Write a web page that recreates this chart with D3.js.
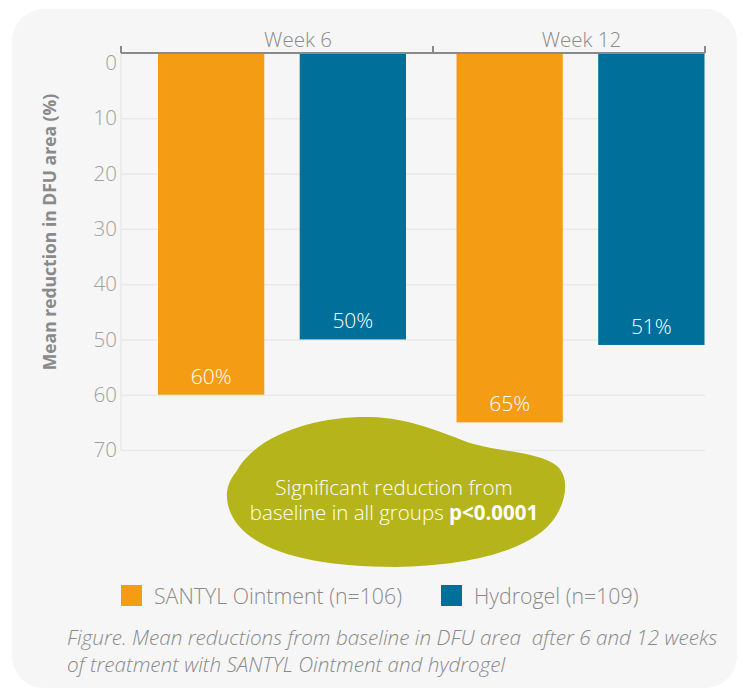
<!DOCTYPE html>
<html>
<head>
<meta charset="utf-8">
<script src="https://cdn.jsdelivr.net/npm/d3@7"></script>
<style>
  body { margin: 0; background: #ffffff; }
  svg { display: block; font-family: "Open Sans", Lato, sans-serif; }
  .tick-label { fill: #a0a0a0; font-size: 20.5px; font-weight: 300; }
  .grid line { stroke: #e9e9e9; stroke-width: 1.5; }
</style>
</head>
<body>
<div id="chart"></div>
<script>
const weeks = ["Week 6", "Week 12"];
const seriesNames = ["SANTYL Ointment (n=106)", "Hydrogel (n=109)"];
const santylValues = [60, 65];
const hydrogelValues = [50, 51];
const yTicks = [0, 10, 20, 30, 40, 50, 60, 70];
const colors = ["#f39c14", "#00709b"];

const width = 743;
const height = 692;
const margin = { top: 53, left: 121, right: 38 };
const axisEdges = [121, 433, 705];

const svg = d3.select("#chart").append("svg")
  .attr("width", width)
  .attr("height", height);

// background panel
svg.append("rect")
  .attr("x", 12).attr("y", 9)
  .attr("width", 725).attr("height", 679)
  .attr("rx", 32)
  .attr("fill", "#f6f6f6");

const plotRight = axisEdges[2];
const x0 = d3.scaleBand().domain(weeks).range([132.75, 729.75]);
const x1 = d3.scaleBand().domain(seriesNames)
  .range([x0.bandwidth() / 2 - 124, x0.bandwidth() / 2 + 124])
  .paddingInner(0.25).paddingOuter(0);
const y = d3.scaleLinear().domain([0, 70]).range([63, 450]);

// gridlines
svg.append("g")
  .attr("class", "grid")
  .attr("transform", `translate(${margin.left},0)`)
  .call(d3.axisLeft(y).tickValues(yTicks.slice(1)).tickSize(-(plotRight - margin.left)).tickFormat(""))
  .call((g) => g.select(".domain").remove());

svg.append("line")
  .attr("x1", margin.left).attr("x2", margin.left)
  .attr("y1", margin.top).attr("y2", y(70))
  .attr("stroke", "#e9e9e9").attr("stroke-width", 1.5);

// y tick labels
svg.append("g")
  .selectAll("text")
  .data(yTicks)
  .join("text")
  .attr("class", "tick-label")
  .attr("x", margin.left - 4)
  .attr("y", (d) => y(d))
  .attr("dy", "0.35em")
  .attr("text-anchor", "end")
  .text((d) => d);

// y axis title
svg.append("text")
  .attr("transform", `translate(56, ${232}) rotate(-90)`)
  .attr("text-anchor", "middle")
  .attr("fill", "#8a8a8a")
  .attr("font-size", 17.5)
  .attr("font-weight", "bold")
  .text("Mean reduction in DFU area (%)");

// bars
const rows = weeks.map((w, i) => ({ week: w, values: [santylValues[i], hydrogelValues[i]] }));

const groups = svg.append("g")
  .selectAll("g")
  .data(rows)
  .join("g")
  .attr("transform", (d) => `translate(${x0(d.week)},0)`);

groups.selectAll("rect")
  .data((d) => d.values.map((v, j) => ({ name: seriesNames[j], value: v, color: colors[j] })))
  .join("rect")
  .attr("x", (d) => x1(d.name))
  .attr("y", margin.top)
  .attr("width", x1.bandwidth())
  .attr("height", (d) => y(d.value) - margin.top)
  .attr("fill", (d) => d.color);

groups.selectAll("text.val")
  .data((d) => d.values.map((v, j) => ({ name: seriesNames[j], value: v })))
  .join("text")
  .attr("class", "val")
  .attr("x", (d) => x1(d.name) + x1.bandwidth() / 2)
  .attr("y", (d) => y(d.value) - 11)
  .attr("text-anchor", "middle")
  .attr("fill", "#ffffff")
  .attr("font-size", 21)
  .attr("font-weight", 300)
  .text((d) => `${d.value}%`);

// top category axis
const topAxis = svg.append("g");
topAxis.append("line")
  .attr("x1", axisEdges[0]).attr("x2", axisEdges[2])
  .attr("y1", margin.top).attr("y2", margin.top)
  .attr("stroke", "#8a8a8a").attr("stroke-width", 2);
topAxis.selectAll("line.edge")
  .data(axisEdges)
  .join("line")
  .attr("class", "edge")
  .attr("x1", (d) => d).attr("x2", (d) => d)
  .attr("y1", margin.top - 7).attr("y2", margin.top)
  .attr("stroke", "#8a8a8a").attr("stroke-width", 2);
topAxis.selectAll("text")
  .data(weeks)
  .join("text")
  .attr("x", (d, i) => x0(d) + x0.bandwidth() / 2 + (i === 0 ? 16 : 1))
  .attr("y", 47)
  .attr("text-anchor", "middle")
  .attr("fill", "#8a8a8a")
  .attr("font-size", 20.5)
  .attr("font-weight", 300)
  .text((d) => d);

// annotation blob
svg.append("path")
  .attr("d", "M 236 472 C 258 432, 320 416, 370 417 C 410 418, 440 432, 470 443 C 500 452, 540 452, 557 466 C 570 478, 566 500, 556 516 C 535 550, 470 566, 395 567 C 305 567, 238 548, 228 505 C 225 492, 228 482, 236 472 Z")
  .attr("fill", "#b5b51b");

const note = svg.append("text")
  .attr("text-anchor", "middle")
  .attr("fill", "#ffffff")
  .attr("font-size", 20.5)
  .attr("font-weight", 300);
note.append("tspan").attr("x", 394).attr("y", 495).text("Significant reduction from");
const line2 = note.append("tspan").attr("x", 394).attr("y", 520);
line2.append("tspan").text("baseline in all groups ");
line2.append("tspan").attr("font-weight", "bold").text("p<0.0001");

// legend
const legendX = [121, 441];
const legend = svg.append("g")
  .selectAll("g")
  .data(seriesNames)
  .join("g")
  .attr("transform", (d, i) => `translate(${legendX[i]},585)`);
legend.append("rect")
  .attr("width", 21).attr("height", 21)
  .attr("fill", (d, i) => colors[i]);
legend.append("text")
  .attr("x", 33).attr("y", 19)
  .attr("fill", "#8a8a8a")
  .attr("font-size", 21.3)
  .attr("font-weight", 300)
  .text((d) => d);

// caption
const caption = svg.append("text")
  .attr("fill", "#8a8a8a")
  .attr("font-size", 20.7)
  .attr("font-style", "italic")
  .attr("font-weight", 300)
  .style("white-space", "pre");
caption.append("tspan").attr("x", 67).attr("y", 645)
  .text("Figure. Mean reductions from baseline in DFU area  after 6 and 12 weeks");
caption.append("tspan").attr("x", 67).attr("y", 672)
  .text("of treatment with SANTYL Ointment and hydrogel");
</script>
</body>
</html>
